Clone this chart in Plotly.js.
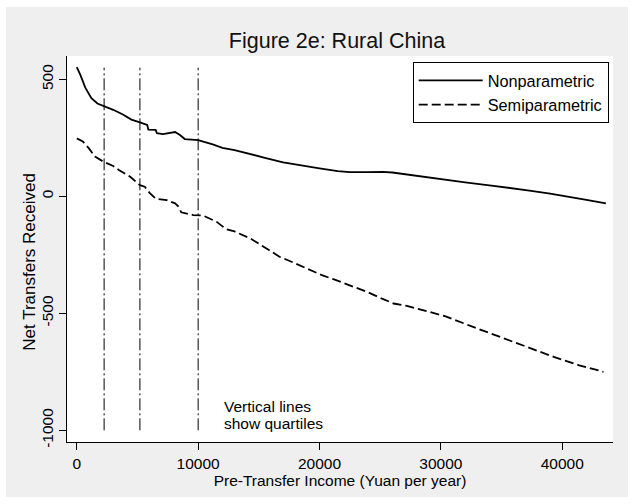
<!DOCTYPE html>
<html>
<head>
<meta charset="utf-8">
<script src="https://cdn.plot.ly/plotly-3.0.1.min.js"></script>
<style>html,body{margin:0;padding:0;background:#fff;}#chart{width:635px;height:504px;}</style>
</head>
<body>
<div id="chart"></div>
<script>
// Nonparametric estimate
var npIncome = [0, 300, 700, 1200, 1700, 2250, 3000, 3800, 4500, 5200, 5800, 5900, 6500, 6600, 7100, 8100, 8500, 8900, 10000, 11200, 12000, 13000, 14000, 15500, 17000, 19000, 20000, 21500, 22500, 24000, 25200, 26000, 27200, 28500, 30200, 32000, 34000, 35500, 37300, 39000, 40600, 42000, 43600];
var npTransfer = [552, 518, 465, 420, 397, 386, 370, 350, 328, 316, 305, 285, 284, 270, 266, 275, 262, 245, 240, 222, 207, 198, 186, 165, 145, 127, 120, 108, 104, 104, 105, 102, 93, 85, 72, 60, 47, 38, 25, 12, -4, -15, -30];
// Semiparametric estimate
var spIncome = [0, 500, 1000, 1500, 2200, 3000, 3500, 4400, 5200, 5600, 6000, 6500, 7400, 8100, 8400, 8600, 9600, 10400, 11500, 12300, 13000, 14300, 15700, 16700, 17800, 19000, 20200, 21200, 22800, 24000, 25100, 26100, 27200, 28500, 30400, 32600, 34800, 37100, 39300, 41400, 43400];
var spTransfer = [248, 235, 205, 170, 148, 130, 112, 84, 48, 41, 15, -10, -16, -30, -45, -68, -80, -82, -108, -140, -150, -180, -225, -258, -282, -310, -337, -355, -387, -410, -436, -458, -468, -487, -513, -557, -600, -643, -686, -722, -750];
// Quartiles of pre-transfer income and the vertical extent of their marker lines
var quartiles = [2250, 5200, 10000];
var quartileSpan = [-1000, 550];
// Tick values
var xTicks = [0, 10000, 20000, 30000, 40000];
var yTicks = [-1000, -500, 0, 500];

var FONT = 'Liberation Sans, Arial, Helvetica, sans-serif';
var W = 635, H = 504;
var M = {l: 67, r: 22, t: 56, b: 62};
var pw = W - M.l - M.r, ph = H - M.t - M.b;
function px2paperX(p) { return (p - M.l) / pw; }
function px2paperY(p) { return (H - M.b - p) / ph; }

var traces = [
  {x: npIncome, y: npTransfer, type: 'scatter', mode: 'lines', name: 'Nonparametric',
   line: {color: '#000', width: 1.8}},
  {x: spIncome, y: spTransfer, type: 'scatter', mode: 'lines', name: 'Semiparametric',
   line: {color: '#000', width: 1.8, dash: '9px,4px'}}
];
quartiles.forEach(function (q) {
  traces.push({x: [q, q], y: quartileSpan, type: 'scatter', mode: 'lines', showlegend: false,
    hoverinfo: 'skip', line: {color: '#000', width: 1, dash: '12px,3px,2px,3px'}});
});

var layout = {
  width: W, height: H,
  margin: M,
  paper_bgcolor: '#ffffff',
  plot_bgcolor: '#ffffff',
  font: {family: FONT, color: '#000', size: 15.5},
  showlegend: true,
  title: {text: 'Figure 2e: Rural China', font: {family: FONT, size: 21.5, color: '#111'},
    xref: 'container', x: 337 / W, xanchor: 'center', yref: 'container', y: 1 - 40.5 / H, yanchor: 'middle'},
  xaxis: {range: [-808, 44186], tickvals: xTicks, ticktext: xTicks.map(String), showgrid: false, zeroline: false,
    showline: true, linecolor: '#000', linewidth: 1, ticks: 'outside', ticklen: 7, tickcolor: '#000', tickwidth: 1,
    tickfont: {family: FONT, size: 15.5, color: '#000'},
    title: {text: 'Pre-Transfer Income (Yuan per year)', font: {family: FONT, size: 15.5, color: '#000'}, standoff: 4}},
  yaxis: {range: [-1050, 600], tickvals: yTicks, ticktext: yTicks.map(String), showgrid: false, zeroline: false,
    showline: true, linecolor: '#000', linewidth: 1, ticks: 'outside', ticklen: 7, tickcolor: '#000', tickwidth: 1,
    tickangle: -90, tickfont: {family: FONT, size: 15.5, color: '#000'}},
  legend: {x: px2paperX(412.7), y: px2paperY(62.3), xanchor: 'left', yanchor: 'top', bgcolor: '#fff',
    bordercolor: '#000', borderwidth: 1, font: {family: FONT, size: 16.3, color: '#000'}, itemwidth: 64,
    tracegroupgap: 0},
  shapes: [
    {type: 'rect', xref: 'paper', yref: 'paper', layer: 'below',
     x0: px2paperX(6), x1: px2paperX(628), y0: px2paperY(497), y1: px2paperY(7),
     fillcolor: '#efefef', line: {width: 0}},
    {type: 'rect', xref: 'paper', yref: 'paper', layer: 'below', x0: 0, x1: 1, y0: 0, y1: 1,
     fillcolor: '#ffffff', line: {width: 0}}
  ],
  annotations: [
    {text: 'Net Transfers Received', textangle: -90, xref: 'paper', yref: 'paper',
     x: px2paperX(30), y: px2paperY(261.7), xanchor: 'center', yanchor: 'middle', showarrow: false,
     font: {family: FONT, size: 17, color: '#000'}},
    {text: 'Vertical lines', xref: 'x', yref: 'y', x: 11950, y: -899, xanchor: 'left', yanchor: 'middle',
     showarrow: false, align: 'left', font: {family: FONT, size: 15.5, color: '#000'}},
    {text: 'show quartiles', xref: 'x', yref: 'y', x: 11950, y: -973, xanchor: 'left', yanchor: 'middle',
     showarrow: false, align: 'left', font: {family: FONT, size: 15.5, color: '#000'}}
  ]
};

Plotly.newPlot('chart', traces, layout, {displayModeBar: false, staticPlot: true});
</script>
</body>
</html>
